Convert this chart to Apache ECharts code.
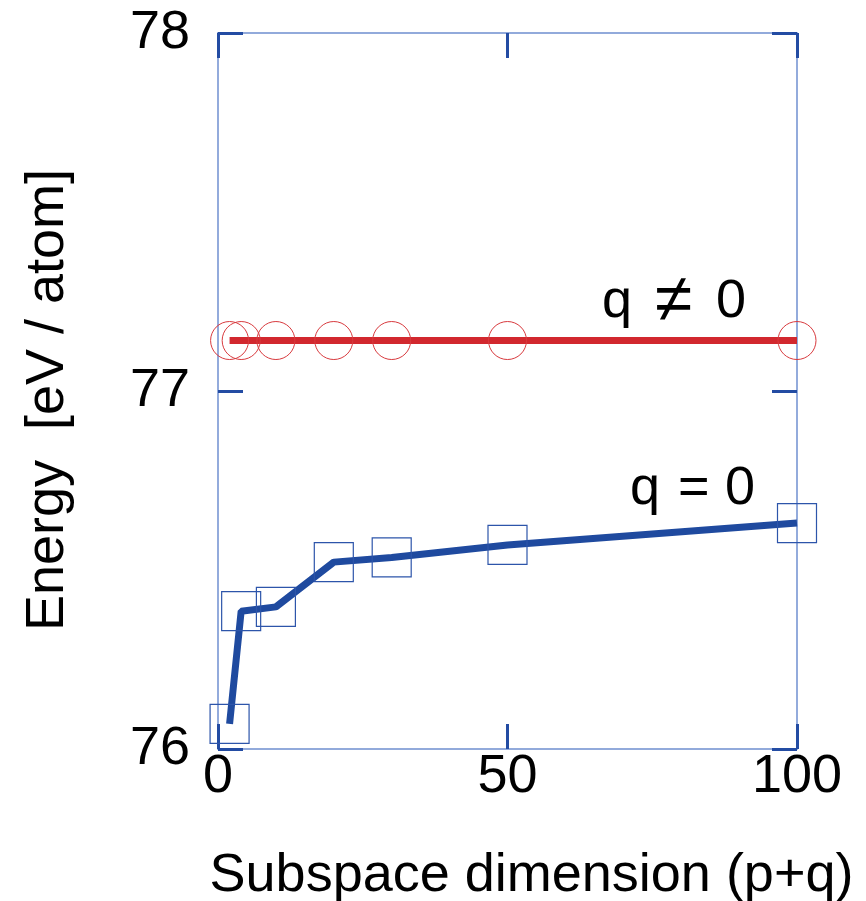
<!DOCTYPE html>
<html>
<head>
<meta charset="utf-8">
<script src="https://cdn.jsdelivr.net/npm/echarts@6/dist/echarts.min.js"></script>
<style>
html,body{margin:0;padding:0;background:#fff;}
#c{width:866px;height:901px;}
</style>
</head>
<body>
<div id="c"></div>
<script>
const dims = [2, 4, 10, 20, 30, 50, 100];
const energyQNonZero = [77.141, 77.141, 77.141, 77.141, 77.141, 77.141, 77.141];
const energyQZero = [76.07, 76.385, 76.397, 76.522, 76.535, 76.57, 76.631];
const xTicks = [0, 50, 100];
const yTicks = [76, 77, 78];

const FONT = '"Liberation Sans", Arial, Helvetica, sans-serif';
const frameColor = '#6f8fd0';
const tickColor = '#234ca3';

const chart = echarts.init(document.getElementById('c'), null, {renderer: 'canvas'});

function axisCommon() {
  return {
    axisLine: {show: true, onZero: false, lineStyle: {color: frameColor, width: 1.5}},
    axisTick: {show: true, inside: true, length: 25, lineStyle: {color: tickColor, width: 3}},
    splitLine: {show: false},
  };
}

const option = {
  backgroundColor: '#fff',
  animation: false,
  grid: {left: 218, right: 69, top: 33, bottom: 152, containLabel: false, outerBoundsMode: 'none'},
  xAxis: [
    Object.assign({
      type: 'value', position: 'bottom', min: 0, max: 100, interval: 50,
      name: 'Subspace dimension (p+q)', nameLocation: 'middle', nameGap: 100,
      nameTextStyle: {fontFamily: FONT, fontSize: 54, color: '#000', padding: [0, 0, 0, 48]},
      axisLabel: {show: true, margin: 1, fontFamily: FONT, fontSize: 54, color: '#000',
        formatter: v => xTicks.includes(v) ? String(v) : ''}
    }, axisCommon()),
    Object.assign({
      type: 'value', position: 'top', min: 0, max: 100, interval: 50,
      axisLabel: {show: false}
    }, axisCommon())
  ],
  yAxis: [
    Object.assign({
      type: 'value', position: 'left', min: 76, max: 78, interval: 1,
      name: 'Energy  [eV / atom]', nameLocation: 'middle', nameGap: 143,
      nameTextStyle: {fontFamily: FONT, fontSize: 54, color: '#000', padding: [0, 18, 0, 0]},
      axisLabel: {show: true, margin: 28, fontFamily: FONT, fontSize: 54, color: '#000',
        formatter: v => yTicks.includes(v) ? String(v) : ''}
    }, axisCommon()),
    Object.assign({
      type: 'value', position: 'right', min: 76, max: 78, interval: 1,
      axisLabel: {show: false}
    }, axisCommon())
  ],
  series: [
    {
      name: 'q != 0', type: 'line',
      data: dims.map((d, i) => [d, energyQNonZero[i]]),
      lineStyle: {color: '#d2282e', width: 7},
      symbol: 'circle', symbolSize: 38, showAllSymbol: true,
      itemStyle: {color: 'rgba(0,0,0,0)', borderColor: '#d83a3e', borderWidth: 1},
      z: 3
    },
    {
      name: 'q = 0', type: 'line',
      data: dims.map((d, i) => [d, energyQZero[i]]),
      lineStyle: {color: '#1f4a9f', width: 7},
      symbol: 'rect', symbolSize: 39, showAllSymbol: true,
      itemStyle: {color: 'rgba(0,0,0,0)', borderColor: '#2d55aa', borderWidth: 1.2},
      z: 3
    }
  ],
  graphic: [
    {type: 'text', left: 602, top: 275,
      style: {text: 'q', fontFamily: FONT, fontSize: 54, fill: '#000'}},
    {type: 'text', left: 655, top: 268,
      style: {text: '\u2260', fontFamily: FONT, fontSize: 68, fill: '#000'}},
    {type: 'text', left: 716, top: 275,
      style: {text: '0', fontFamily: FONT, fontSize: 54, fill: '#000'}},
    {type: 'text', left: 630, top: 462,
      style: {text: 'q', fontFamily: FONT, fontSize: 54, fill: '#000'}},
    {type: 'text', left: 678, top: 462,
      style: {text: '=', fontFamily: FONT, fontSize: 54, fill: '#000'}},
    {type: 'text', left: 725, top: 462,
      style: {text: '0', fontFamily: FONT, fontSize: 54, fill: '#000'}}
  ]
};
chart.setOption(option);
</script>
</body>
</html>
